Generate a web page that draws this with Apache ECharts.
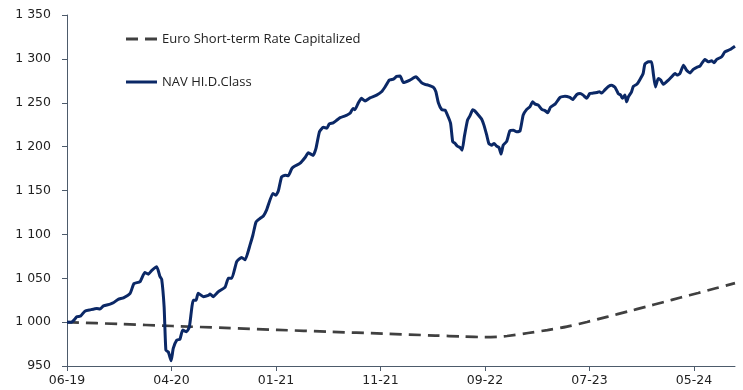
<!DOCTYPE html>
<html>
<head>
<meta charset="utf-8">
<style>
  html, body { margin: 0; padding: 0; background: #ffffff; }
  #chart { width: 743px; height: 390px; }
</style>
<script src="https://cdn.jsdelivr.net/npm/echarts@6/dist/echarts.min.js"></script>
</head>
<body>
<div id="chart"></div>
<script>
// Time is counted in days from the first valuation date (10 June 2019).
const tickStep = 298;
const tickLabels = ['06-19', '04-20', '01-21', '11-21', '09-22', '07-23', '05-24'];
const lastDay = 1905;

// NAV of the HI.D share class
const navDays = [
  0, 13, 28, 39, 51, 66, 85, 94, 104, 123, 132, 146, 161, 180, 191, 208, 222, 232, 242, 256,
  265, 270, 277, 282, 289, 297, 303, 313, 322, 330, 341, 349, 360, 368, 374, 389, 403, 408, 417, 431,
  451, 460, 470, 484, 498, 508, 522, 530, 539, 550, 560, 569, 587, 596, 603, 612, 622, 631, 641, 650,
  664, 679, 688, 693, 702, 710, 720, 731, 741, 748, 759, 769, 779, 793, 799, 807, 816, 821, 831, 840,
  850, 864, 883, 897, 907, 919, 931, 940, 950, 959, 978, 995, 1011, 1021, 1030, 1045, 1052, 1059, 1069, 1078,
  1087, 1094, 1100, 1106, 1113, 1121, 1127, 1133, 1142, 1149, 1157, 1163, 1173, 1183, 1189, 1197, 1203, 1211, 1218, 1225,
  1232, 1238, 1244, 1254, 1263, 1273, 1282, 1292, 1301, 1311, 1320, 1328, 1335, 1344, 1354, 1363, 1371, 1379, 1392, 1406,
  1420, 1434, 1442, 1454, 1463, 1472, 1482, 1491, 1501, 1511, 1518, 1525, 1534, 1544, 1553, 1563, 1572, 1579, 1584, 1591,
  1596, 1601, 1610, 1615, 1625, 1634, 1643, 1648, 1658, 1667, 1672, 1678, 1686, 1693, 1701, 1715, 1724, 1734, 1740, 1748,
  1758, 1767, 1777, 1786, 1796, 1805, 1819, 1829, 1838, 1845, 1853, 1867, 1876, 1891, 1905
];
const navValues = [
  1000, 1000, 1006, 1007, 1012.5, 1014, 1015.6, 1015, 1018.6, 1020.5, 1022, 1026, 1027.7, 1032.7, 1044, 1046, 1056.6, 1054.7, 1059, 1063,
  1052, 1049, 1017, 968, 966, 956, 970, 979.5, 980.6, 991, 989, 994.6, 1025, 1025, 1033, 1029, 1030.4, 1032, 1029, 1034.5,
  1040, 1050, 1050, 1069, 1073.7, 1071, 1088, 1099, 1114, 1118, 1121, 1127.6, 1146.7, 1144.7, 1150, 1165.6, 1167.5, 1166.7, 1175, 1177.8,
  1180.8, 1187.6, 1193, 1192, 1190, 1198, 1217, 1222, 1221, 1226, 1227, 1230, 1233, 1235, 1236, 1238, 1243.5, 1242, 1250, 1255,
  1252, 1255.6, 1258.7, 1262.5, 1268, 1275.8, 1277, 1280, 1280.6, 1273, 1275.8, 1279.5, 1273, 1271, 1270, 1267.4, 1262.5, 1250, 1242, 1241.6,
  1234, 1226.4, 1205.5, 1204, 1200.6, 1199, 1196, 1211, 1230, 1235, 1242, 1240.7, 1236, 1231, 1224.5, 1213, 1203.6, 1201.7, 1203.6, 1200.6,
  1199, 1191.5, 1201.7, 1206, 1218, 1218.8, 1217, 1218, 1236, 1242.4, 1245.3, 1251, 1248.4, 1247.3, 1242.4, 1241, 1238.6, 1245, 1248.4, 1256,
  1257.5, 1256, 1253.7, 1259.4, 1260.5, 1258.7, 1255, 1260.5, 1261, 1261.7, 1262.5, 1261, 1264.7, 1268.6, 1270, 1267.5, 1260.5, 1258.7, 1255, 1258.7,
  1251, 1256.7, 1262.5, 1268.6, 1271, 1276.6, 1283.4, 1294, 1296.6, 1296.6, 1283.4, 1268, 1277.7, 1275.8, 1271, 1275.8, 1279.5, 1283.4, 1281.5, 1283.4,
  1292.8, 1287, 1284, 1288, 1290.4, 1291.7, 1299.4, 1296.6, 1297.9, 1295.7, 1299.4, 1302.4, 1308, 1310.7, 1314.5
];

// Euro short-term rate, capitalised from 1 000
const rateDays = [0, 150, 300, 450, 600, 750, 900, 1050, 1130, 1192, 1230, 1255, 1315, 1370, 1426, 1483, 1540, 1600, 1650, 1700, 1750, 1800, 1850, 1905];
const rateValues = [1000, 997.8, 995.6, 993.4, 991.2, 989.0, 986.9, 984.7, 983.6, 982.9, 983.3, 984.2, 987.6, 990.9, 994.9, 1000.2, 1006, 1012.2, 1017.4, 1022.7, 1028, 1033.2, 1038.6, 1044.4];

const rateName = 'Euro Short-term Rate Capitalized';
const navName = 'NAV HI.D.Class';

const navData = navDays.map((d, i) => [d, navValues[i]]);
const rateData = rateDays.map((d, i) => [d, rateValues[i]]);
const tickValues = tickLabels.map((_, i) => i * tickStep);

const rateColor = '#404040';
const navColor = '#0b2866';
const axisColor = '#4d5b6b';
const labelFont = { color: '#222222', fontFamily: 'DejaVu Sans', fontSize: 12.5 };

const chart = echarts.init(document.getElementById('chart'), null, { renderer: 'canvas' });
chart.setOption({
  animation: false,
  backgroundColor: '#ffffff',
  grid: { left: 67, right: 8, top: 15, bottom: 24, containLabel: false },
  legend: {
    orient: 'vertical',
    left: 121,
    top: 26,
    itemWidth: 31,
    itemHeight: 3,
    itemGap: 27,
    data: [
      { name: rateName, icon: 'path://M0,0H12V3H0Z M19,0H31V3H19Z', itemStyle: { color: rateColor } },
      { name: navName, icon: 'rect', itemStyle: { color: navColor } }
    ],
    textStyle: { color: '#222222', fontFamily: 'Open Sans', fontSize: 13, lineHeight: 16 }
  },
  xAxis: {
    type: 'value',
    min: 0,
    max: lastDay,
    interval: tickStep,
    splitLine: { show: false },
    axisLine: { lineStyle: { color: axisColor, width: 1 } },
    axisTick: { show: true, length: 5, lineStyle: { color: axisColor }, customValues: tickValues },
    axisLabel: Object.assign({
      margin: 8,
      customValues: tickValues,
      formatter: v => tickLabels[Math.round(v / tickStep)] || ''
    }, labelFont)
  },
  yAxis: {
    type: 'value',
    min: 950,
    max: 1350,
    interval: 50,
    splitLine: { show: false },
    axisLine: { show: true, lineStyle: { color: axisColor, width: 1 } },
    axisTick: { show: true, length: 5, lineStyle: { color: axisColor } },
    axisLabel: Object.assign({
      margin: 16,
      formatter: v => String(v).replace(/\B(?=(\d{3})+(?!\d))/g, ' ')
    }, labelFont)
  },
  series: [
    {
      name: rateName,
      type: 'line',
      data: rateData,
      symbol: 'none',
      smooth: 0.3,
      z: 2,
      lineStyle: { color: rateColor, width: 2.7, type: [12, 7] },
      itemStyle: { color: rateColor }
    },
    {
      name: navName,
      type: 'line',
      data: navData,
      symbol: 'none',
      smooth: 0.15,
      z: 3,
      lineStyle: { color: navColor, width: 3 },
      itemStyle: { color: navColor }
    }
  ]
});
</script>
</body>
</html>
